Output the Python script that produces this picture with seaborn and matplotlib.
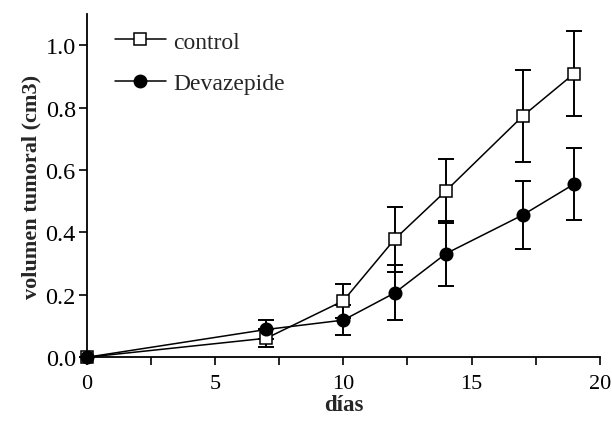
import matplotlib
matplotlib.use("Agg")
import matplotlib.pyplot as plt
import seaborn as sns
import pandas as pd
from matplotlib.lines import Line2D
from matplotlib.ticker import MultipleLocator, FormatStrFormatter

# Tumour volume over time (mean ± error)
days = [0, 7, 10, 12, 14, 17, 19]
control_mean = [0.0, 0.061, 0.181, 0.378, 0.533, 0.773, 0.909]
control_err = [0.0, 0.029, 0.054, 0.104, 0.102, 0.146, 0.136]
deva_mean = [0.0, 0.089, 0.119, 0.206, 0.332, 0.456, 0.555]
deva_err = [0.0, 0.031, 0.048, 0.088, 0.105, 0.108, 0.114]
groups = ["control", "Devazepide"]

df = pd.DataFrame({
    "días": days * 2,
    "volumen": control_mean + deva_mean,
    "err": control_err + deva_err,
    "grupo": [groups[0]] * len(days) + [groups[1]] * len(days),
})

sns.set_theme(style="ticks")
plt.rcParams["font.family"] = ["Liberation Serif", "DejaVu Serif"]

fig = plt.figure(figsize=(6.12, 4.27), dpi=100)
ax = fig.add_axes([0.142, 0.161, 0.838, 0.804])

# error bars first so the markers sit on top
for g in groups:
    sub = df[df["grupo"] == g]
    ax.errorbar(sub["días"], sub["volumen"], yerr=sub["err"], fmt="none",
                ecolor="black", elinewidth=1.4, capsize=5.5, capthick=1.4,
                zorder=2)

sns.lineplot(data=df, x="días", y="volumen", hue="grupo", style="grupo",
             markers={"control": "s", "Devazepide": "o"}, dashes=False,
             palette={"control": "black", "Devazepide": "black"},
             linewidth=1.1, markersize=9, markeredgewidth=1.1,
             markeredgecolor="black", ax=ax, legend=False)

# white face for the control squares, filled circles drawn above them
for ln in ax.lines:
    if ln.get_marker() == "s":
        ln.set_markerfacecolor("white")
        ln.set_zorder(3)
    elif ln.get_marker() == "o":
        ln.set_markerfacecolor("black")
        ln.set_zorder(4)
    ln.set_clip_on(False)

handles = [
    Line2D([], [], color="black", lw=1.1, marker="s", markersize=9,
           markerfacecolor="white", markeredgecolor="black", markeredgewidth=1.1),
    Line2D([], [], color="black", lw=1.1, marker="o", markersize=9,
           markerfacecolor="black", markeredgecolor="black"),
]
ax.legend(handles, groups, loc="upper left", bbox_to_anchor=(0.055, 0.95),
          frameon=False, fontsize=17, handlelength=2.15, handletextpad=0.3,
          labelspacing=0.85, borderaxespad=0.0, borderpad=0.0)

ax.set_xlim(0, 20)
ax.set_ylim(0, 1.1)
ax.xaxis.set_major_locator(MultipleLocator(5))
ax.xaxis.set_minor_locator(MultipleLocator(2.5))
ax.set_yticks([0, 0.2, 0.4, 0.6, 0.8, 1.0])
ax.yaxis.set_major_formatter(FormatStrFormatter("%.1f"))

ax.tick_params(axis="both", which="both", direction="out", length=6,
               width=1.2, color="black", labelcolor="black")
ax.tick_params(axis="x", which="both", labelsize=16, pad=6)
ax.tick_params(axis="y", labelsize=17.5, pad=2)

for side in ["top", "right"]:
    ax.spines[side].set_visible(False)
for side in ["left", "bottom"]:
    ax.spines[side].set_color("black")
    ax.spines[side].set_linewidth(1.3)

ax.set_xlabel("días", fontsize=16.5, fontweight="bold", labelpad=1)
ax.set_ylabel("volumen tumoral (cm3)", fontsize=16, fontweight="bold",
              labelpad=3)

for c in ax.collections:
    c.set_clip_on(False)

fig.savefig("out.png", dpi=100)
